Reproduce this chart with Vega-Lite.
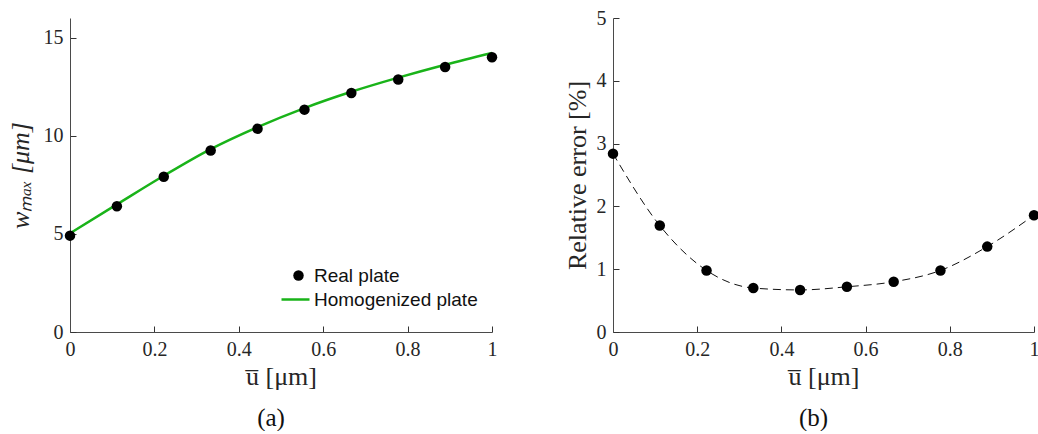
{
  "$schema": "https://vega.github.io/schema/vega-lite/v6.json",
  "padding": {"left": 7, "top": 8, "right": 0, "bottom": 0},
  "spacing": 66,
  "datasets": {
    "real": [
      {"u": 0, "w": 4.91, "model": "Real plate"},
      {"u": 0.1111, "w": 6.41, "model": "Real plate"},
      {"u": 0.2222, "w": 7.91, "model": "Real plate"},
      {"u": 0.3333, "w": 9.25, "model": "Real plate"},
      {"u": 0.4444, "w": 10.36, "model": "Real plate"},
      {"u": 0.5556, "w": 11.33, "model": "Real plate"},
      {"u": 0.6667, "w": 12.18, "model": "Real plate"},
      {"u": 0.7778, "w": 12.87, "model": "Real plate"},
      {"u": 0.8889, "w": 13.5, "model": "Real plate"},
      {"u": 1, "w": 14.0, "model": "Real plate"}
    ],
    "homog": [
      {"u": 0, "w": 5.03, "model": "Homogenized plate"},
      {"u": 0.1111, "w": 6.5, "model": "Homogenized plate"},
      {"u": 0.2222, "w": 7.96, "model": "Homogenized plate"},
      {"u": 0.3333, "w": 9.32, "model": "Homogenized plate"},
      {"u": 0.4444, "w": 10.44, "model": "Homogenized plate"},
      {"u": 0.5556, "w": 11.41, "model": "Homogenized plate"},
      {"u": 0.6667, "w": 12.24, "model": "Homogenized plate"},
      {"u": 0.7778, "w": 12.96, "model": "Homogenized plate"},
      {"u": 0.8889, "w": 13.62, "model": "Homogenized plate"},
      {"u": 1, "w": 14.22, "model": "Homogenized plate"}
    ],
    "err": [
      {"u": 0, "e": 2.84},
      {"u": 0.1111, "e": 1.695},
      {"u": 0.2222, "e": 0.98},
      {"u": 0.3333, "e": 0.70},
      {"u": 0.4444, "e": 0.67},
      {"u": 0.5556, "e": 0.72},
      {"u": 0.6667, "e": 0.80},
      {"u": 0.7778, "e": 0.98},
      {"u": 0.8889, "e": 1.36},
      {"u": 1, "e": 1.86}
    ]
  },
  "config": {
    "view": {"stroke": null},
    "font": "Liberation Serif",
    "axis": {
      "grid": false,
      "domainColor": "#4a4a4a",
      "tickColor": "#333333",
      "tickSize": -6,
      "tickWidth": 1,
      "labelPadding": 13,
      "labelFont": "Liberation Serif",
      "labelFontSize": 20,
      "labelColor": "#262626",
      "titleFont": "Liberation Serif",
      "titleFontSize": 26,
      "titleFontWeight": "normal",
      "titleColor": "#262626",
      "labelFlush": false,
      "labelOverlap": false
    },
    "legend": {
      "labelFont": "Liberation Sans",
      "labelFontSize": 19,
      "labelColor": "#111",
      "labelLimit": 400,
      "padding": 0,
      "title": null
    },
    "title": {
      "font": "Liberation Serif",
      "fontSize": 25,
      "fontWeight": "normal",
      "color": "#111"
    }
  },
  "hconcat": [
    {
      "width": 422,
      "height": 314,
      "title": {"text": "(a)", "orient": "bottom", "offset": 17, "dx": -10},
      "layer": [
        {
          "data": {"name": "homog"},
          "mark": {"type": "line", "strokeWidth": 2.5, "interpolate": "monotone"},
          "encoding": {
            "x": {"field": "u", "type": "quantitative", "scale": {"domain": [0, 1]},
                  "axis": {"title": "u̅ [μm]", "values": [0, 0.2, 0.4, 0.6, 0.8, 1], "format": "~g"}},
            "y": {"field": "w", "type": "quantitative", "scale": {"domain": [0, 16]},
                  "axis": {"title": "wₘₐₓ [μm]", "values": [0, 5, 10, 15], "titleFontStyle": "italic", "titlePadding": 10}},
            "stroke": {"field": "model", "type": "nominal",
                       "scale": {"domain": ["Homogenized plate"], "range": ["#19b319"]},
                       "legend": {"orient": "none", "legendX": 210, "legendY": 266, "symbolType": "stroke", "symbolSize": 784, "symbolStrokeWidth": 2.5, "labelOffset": 3}}
          }
        },
        {
          "data": {"name": "real"},
          "mark": {"type": "point", "filled": true, "size": 110, "opacity": 1},
          "encoding": {
            "x": {"field": "u", "type": "quantitative"},
            "y": {"field": "w", "type": "quantitative"},
            "color": {"field": "model", "type": "nominal",
                      "scale": {"domain": ["Real plate"], "range": ["#000000"]},
                      "legend": {"orient": "none", "legendX": 219, "legendY": 248, "symbolType": "circle", "symbolSize": 110, "symbolOpacity": 1, "labelOffset": 6}}
          }
        }
      ]
    },
    {
      "width": 421,
      "height": 314,
      "title": {"text": "(b)", "orient": "bottom", "offset": 17, "dx": -10},
      "data": {"name": "err"},
      "layer": [
        {
          "mark": {"type": "line", "color": "#111", "strokeWidth": 1, "strokeDash": [8, 5], "interpolate": "monotone"},
          "encoding": {
            "x": {"field": "u", "type": "quantitative", "scale": {"domain": [0, 1]},
                  "axis": {"title": "u̅ [μm]", "values": [0, 0.2, 0.4, 0.6, 0.8, 1], "format": "~g"}},
            "y": {"field": "e", "type": "quantitative", "scale": {"domain": [0, 5]},
                  "axis": {"title": "Relative error [%]", "values": [0, 1, 2, 3, 4, 5], "format": "~g", "titlePadding": 6}}
          }
        },
        {
          "mark": {"type": "point", "filled": true, "size": 110, "color": "#000000", "opacity": 1},
          "encoding": {
            "x": {"field": "u", "type": "quantitative"},
            "y": {"field": "e", "type": "quantitative"}
          }
        }
      ]
    }
  ]
}
